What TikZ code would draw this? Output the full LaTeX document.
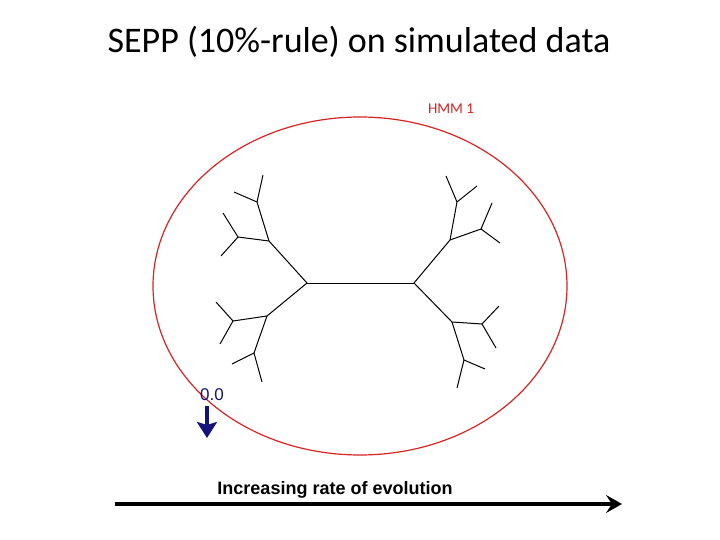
\documentclass[tikz,border=0pt]{standalone}
\usepackage{fontspec}
\setmainfont{Carlito}
\newfontfamily\arialfont{Liberation Sans}
\usetikzlibrary{arrows.meta}
\definecolor{hmmred}{RGB}{215,35,35}
\definecolor{markblue}{RGB}{20,20,120}
\tikzset{
  branch/.style={line width=1pt, black},
  bigarrow/.style={line width=4.5pt, -{Stealth[length=16pt,width=18pt,inset=6pt]}}
}
\begin{document}
\begin{tikzpicture}[x=1pt, y=-1pt]
  \useasboundingbox (0,0) rectangle (720,540);
  \node (title) at (359,42) {\fontsize{36}{40}\selectfont SEPP (10\%-rule) on simulated data};
  \draw[hmmred, line width=1.2pt] (360,286) ellipse [x radius=207, y radius=169];
  \node[hmmred] (hmm) at (451,109) {\fontsize{15}{17}\selectfont HMM 1};
  % tree points
  \foreach \n/\x/\y in {L/307/283, R/414/283,
      La/269/241, Lb/267/316,
      Laa/257/202, Lab/238/237, Lba/233/321, Lbb/254/353,
      Laa1/263/175, Laa2/234/192, Lab1/223/213, Lab2/221/256,
      Lba1/216/302, Lba2/220/344, Lbb1/232/364, Lbb2/262/382,
      Ra/450/240, Rb/452/322,
      Raa/457/202, Rab/481/229, Rba/482/324, Rbb/464/360,
      Raa1/446/176, Raa2/477/186, Rab1/492/203, Rab2/500/243,
      Rba1/499/306, Rba2/496/348, Rbb1/485/369, Rbb2/457/388} {
    \coordinate (\n) at (\x,\y);
  }
  \foreach \a/\b in {L/R, L/La, L/Lb, R/Ra, R/Rb,
      La/Laa, La/Lab, Lb/Lba, Lb/Lbb, Ra/Raa, Ra/Rab, Rb/Rba, Rb/Rbb,
      Laa/Laa1, Laa/Laa2, Lab/Lab1, Lab/Lab2, Lba/Lba1, Lba/Lba2, Lbb/Lbb1, Lbb/Lbb2,
      Raa/Raa1, Raa/Raa2, Rab/Rab1, Rab/Rab2, Rba/Rba1, Rba/Rba2, Rbb/Rbb1, Rbb/Rbb2} {
    \draw[branch] (\a) -- (\b);
  }
  \node[markblue] (zero) at (212,395) {\arialfont\fontsize{17}{19}\selectfont 0.0};
  \coordinate (zerotip) at (207,438);
  \draw[markblue, line width=4.5pt, -{Stealth[length=16pt,width=20pt,inset=3pt]}] (207,406) -- (zerotip);
  \coordinate (axstart) at (115,504);
  \coordinate (axend) at (622,504);
  \draw[bigarrow] (axstart) -- (axend);
  \node (axlabel) at (335,490) {\arialfont\bfseries\fontsize{18}{20}\selectfont Increasing rate of evolution};
\end{tikzpicture}
\end{document}
